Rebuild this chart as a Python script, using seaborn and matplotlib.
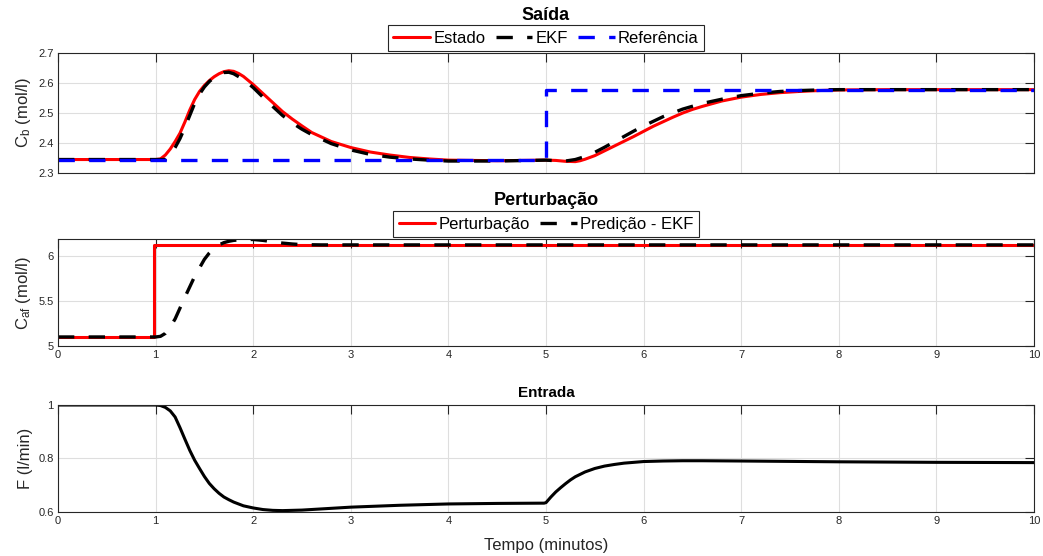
import matplotlib
matplotlib.use("Agg")
import matplotlib.pyplot as plt
import seaborn as sns
from matplotlib.ticker import FuncFormatter, MultipleLocator

# ---- Saída: concentração C_b (mol/l) ----
t_estado = [0, 1.0, 1.05, 1.1, 1.15, 1.2, 1.25, 1.3, 1.35, 1.4, 1.45, 1.5, 1.55, 1.6,
            1.65, 1.7, 1.75, 1.8, 1.85, 1.9, 2.0, 2.1, 2.2, 2.3, 2.4, 2.5, 2.6, 2.7,
            2.8, 3.0, 3.2, 3.4, 3.6, 3.8, 4.0, 4.5, 5.0, 5.1, 5.2, 5.3, 5.35, 5.4,
            5.5, 5.6, 5.7, 5.8, 5.9, 6.0, 6.1, 6.2, 6.3, 6.4, 6.5, 6.6, 6.8, 7.0,
            7.2, 7.4, 7.6, 7.8, 8.0, 8.5, 9.0, 10.0]
cb_estado = [2.345, 2.345, 2.347, 2.36, 2.38, 2.405, 2.433, 2.47, 2.51, 2.545, 2.572,
             2.592, 2.608, 2.621, 2.631, 2.638, 2.641, 2.639, 2.632, 2.622, 2.595,
             2.565, 2.535, 2.505, 2.48, 2.457, 2.435, 2.42, 2.405, 2.385, 2.37, 2.36,
             2.352, 2.347, 2.343, 2.341, 2.343, 2.342, 2.339, 2.338, 2.341, 2.346,
             2.358, 2.374, 2.39, 2.406, 2.422, 2.439, 2.456, 2.471, 2.486, 2.50,
             2.512, 2.522, 2.54, 2.553, 2.562, 2.568, 2.572, 2.575, 2.577, 2.578,
             2.578, 2.578]

t_ekf = [0, 1.1, 1.15, 1.2, 1.25, 1.3, 1.35, 1.4, 1.45, 1.5, 1.55, 1.6, 1.65, 1.7,
         1.75, 1.8, 1.9, 2.0, 2.1, 2.2, 2.3, 2.4, 2.5, 2.6, 2.7, 2.8, 3.0, 3.2, 3.4,
         3.6, 3.8, 4.0, 4.5, 5.0, 5.1, 5.2, 5.3, 5.4, 5.5, 5.6, 5.7, 5.8, 5.9, 6.0,
         6.2, 6.4, 6.6, 6.8, 7.0, 7.2, 7.4, 7.6, 7.8, 8.0, 9.0, 10.0]
cb_ekf = [2.345, 2.345, 2.36, 2.385, 2.415, 2.452, 2.492, 2.532, 2.563, 2.587, 2.605,
          2.619, 2.629, 2.635, 2.636, 2.631, 2.612, 2.585, 2.553, 2.522, 2.492, 2.467,
          2.446, 2.428, 2.413, 2.398, 2.377, 2.362, 2.353, 2.347, 2.343, 2.34, 2.34,
          2.343, 2.341, 2.340, 2.345, 2.355, 2.369, 2.386, 2.404, 2.422, 2.44, 2.457,
          2.488, 2.513, 2.532, 2.546, 2.558, 2.566, 2.572, 2.575, 2.577, 2.578, 2.578,
          2.578]

t_ref = [0, 5.0, 5.0, 10.0]
cb_ref = [2.345, 2.345, 2.578, 2.578]

# ---- Perturbação: C_af (mol/l) ----
t_pert = [0, 0.98, 0.98, 10.0]
caf_pert = [5.1, 5.1, 6.12, 6.12]

t_pred = [0, 1.0, 1.05, 1.1, 1.15, 1.2, 1.3, 1.4, 1.5, 1.55, 1.6, 1.65, 1.7, 1.75,
          1.8, 1.9, 2.0, 2.1, 2.2, 2.3, 2.4, 2.5, 2.7, 3.0, 10.0]
caf_pred = [5.1, 5.1, 5.107, 5.14, 5.21, 5.30, 5.54, 5.77, 5.96, 6.03, 6.085, 6.12,
            6.145, 6.16, 6.17, 6.18, 6.18, 6.17, 6.155, 6.14, 6.13, 6.123, 6.12,
            6.12, 6.12]

# ---- Entrada: vazão F (l/min) ----
t_in = [0, 1.0, 1.05, 1.1, 1.15, 1.2, 1.25, 1.3, 1.35, 1.4, 1.45, 1.5, 1.55, 1.6,
        1.65, 1.7, 1.75, 1.8, 1.9, 2.0, 2.1, 2.2, 2.3, 2.5, 3.0, 3.5, 4.0, 4.5, 4.98,
        5.0, 5.05, 5.1, 5.15, 5.2, 5.25, 5.3, 5.4, 5.5, 5.6, 5.7, 5.8, 5.9, 6.0,
        6.2, 6.4, 6.6, 7.0, 8.0, 9.0, 10.0]
f_in = [1.0, 1.0, 0.998, 0.991, 0.978, 0.955, 0.915, 0.872, 0.83, 0.793, 0.762,
        0.732, 0.706, 0.686, 0.669, 0.655, 0.645, 0.636, 0.622, 0.614, 0.608, 0.605,
        0.604, 0.606, 0.617, 0.624, 0.629, 0.631, 0.632, 0.634, 0.655, 0.674, 0.69,
        0.705, 0.719, 0.731, 0.749, 0.762, 0.771, 0.777, 0.782, 0.785, 0.788, 0.790,
        0.791, 0.791, 0.790, 0.787, 0.785, 0.784]

x_ticks = list(range(0, 11))

sns.set_theme(style="white")
plt.rcParams.update({
    "font.family": ["Liberation Sans", "DejaVu Sans"],
    "mathtext.default": "regular",
    "axes.edgecolor": "#262626",
    "axes.linewidth": 0.8,
    "axes.labelcolor": "#262626",
    "xtick.color": "#262626",
    "ytick.color": "#262626",
    "text.color": "#000000",
})

DASH = (0, (4.9, 4.3))
GRID = "#dedede"

fig = plt.figure(figsize=(10.43, 5.56), dpi=100)
ax1 = fig.add_axes([0.0556, 0.6888, 0.9358, 0.2158])
ax2 = fig.add_axes([0.0556, 0.3777, 0.9358, 0.1924])
ax3 = fig.add_axes([0.0556, 0.0797, 0.9358, 0.1919])

fmt = FuncFormatter(lambda v, p: f"{v:g}")


def style_axes(ax, ylim, ystep, show_x=True):
    ax.set_xlim(0, 10)
    ax.set_ylim(*ylim)
    ax.set_xticks(x_ticks)
    ax.yaxis.set_major_locator(MultipleLocator(ystep))
    ax.yaxis.set_major_formatter(fmt)
    ax.xaxis.set_major_formatter(fmt)
    ax.grid(True, color=GRID, linewidth=0.8)
    ax.set_axisbelow(True)
    ax.tick_params(axis="both", which="major", direction="in", length=6.8,
                   width=0.8, top=True, right=True, labelsize=8, pad=3,
                   labelbottom=show_x)
    for s in ax.spines.values():
        s.set_visible(True)
        s.set_color("#262626")
        s.set_linewidth(0.8)


def line(ax, x, y, color, label=None, dashed=False, lw=2.2):
    kw = dict(linestyle=DASH) if dashed else {}
    sns.lineplot(x=x, y=y, ax=ax, color=color, linewidth=lw, label=label,
                 estimator=None, sort=False, errorbar=None, **kw)


def legend(ax):
    leg = ax.legend(loc="lower center", bbox_to_anchor=(0.5, 1.0), ncol=3,
                    fontsize=12, frameon=True, fancybox=False, shadow=False,
                    handlelength=2.2, handletextpad=0.2, columnspacing=0.6,
                    borderpad=0.32, borderaxespad=0.12)
    fr = leg.get_frame()
    fr.set_edgecolor("#262626")
    fr.set_linewidth(0.8)
    fr.set_facecolor("white")
    fr.set_alpha(1)


# Saída
line(ax1, t_estado, cb_estado, "#ff0000", "Estado")
line(ax1, t_ekf, cb_ekf, "#000000", "EKF", dashed=True, lw=2.4)
line(ax1, t_ref, cb_ref, "#0000ff", "Referência", dashed=True, lw=2.4)
style_axes(ax1, (2.3, 2.7), 0.1, show_x=False)
ax1.set_ylabel("C$_{b}$ (mol/l)", fontsize=12)
ax1.set_title("Saída", fontsize=13, fontweight="bold", pad=24)
legend(ax1)

# Perturbação
line(ax2, t_pert, caf_pert, "#ff0000", "Perturbação")
line(ax2, t_pred, caf_pred, "#000000", "Predição - EKF", dashed=True, lw=2.4)
style_axes(ax2, (5.0, 6.185), 0.5)
ax2.set_ylabel("C$_{af}$ (mol/l)", fontsize=12)
ax2.set_title("Perturbação", fontsize=13, fontweight="bold", pad=24.5)
legend(ax2)

# Entrada
line(ax3, t_in, f_in, "#000000", None)
style_axes(ax3, (0.6, 1.0), 0.2)
ax3.set_ylabel("F (l/min)", fontsize=12)
ax3.set_title("Entrada", fontsize=11, fontweight="bold", pad=6)
ax3.set_xlabel("Tempo (minutos)", fontsize=12, labelpad=8.5)

for ax in (ax1, ax2, ax3):
    ax.yaxis.set_label_coords(-0.026, 0.5)

fig.savefig("out.png", dpi=100)
